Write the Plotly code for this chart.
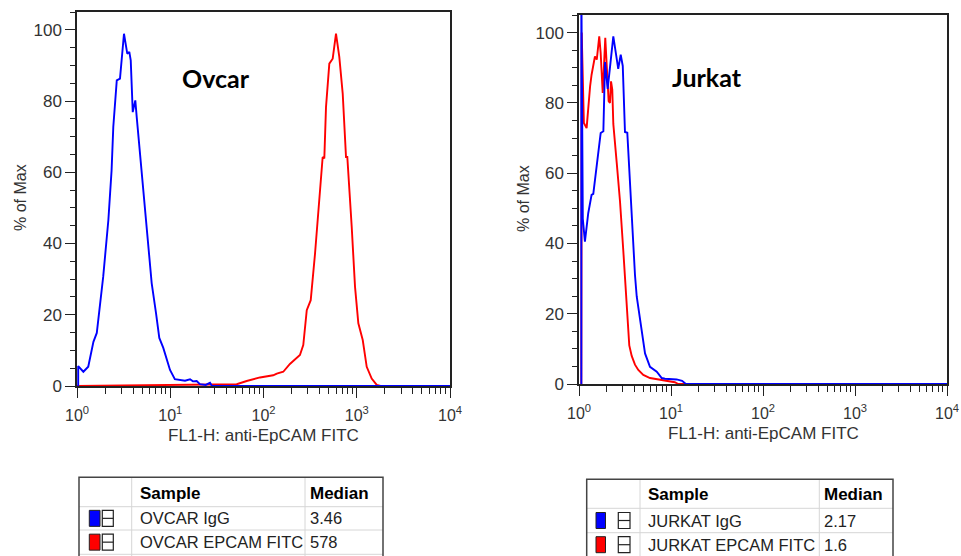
import plotly.graph_objects as go

W, H = 961, 556

# --- histogram data (% of max vs FL1-H intensity) ---
ovcar_igg_x = [1.03, 1.03, 1.17, 1.32, 1.50, 1.63, 1.91, 2.17, 2.35, 2.45, 2.67, 2.89, 3.19, 3.46,
               3.64, 3.77, 3.96, 4.22, 4.37, 4.94, 5.59, 6.32, 7.03, 7.63, 8.42, 9.94, 11.2, 14.4,
               16.3, 17.5, 19.2, 20.8, 24.0, 26.7, 28.0, 30.2, 10000]
ovcar_igg_y = [0, 5.6, 4.0, 5.4, 12.4, 14.9, 30.7, 46.6, 60.6, 72.7, 85.8, 86.3, 98.9, 93.3,
               93.8, 91.4, 76.9, 80.2, 75.5, 59.7, 42.9, 28.9, 20.5, 13.5, 10.7, 4.5, 1.9, 1.5,
               1.9, 1.3, 1.4, 0.5, 0.3, 0.9, 0, 0, 0]

ovcar_epcam_x = [1.0, 51.6, 66.1, 84.6, 91.7, 127, 139, 163, 192, 246, 267, 291, 321, 357, 397,
                 431, 449, 468, 508, 552, 599, 650, 707, 767, 792, 811, 883, 958, 1040, 1159,
                 1279, 1446, 1637, 1800, 10000]
ovcar_epcam_y = [0, 0.5, 1.4, 2.1, 2.4, 3.0, 3.5, 4.0, 6.2, 8.7, 11.5, 21.3, 24.1, 37.2, 54.0,
                 64.3, 63.9, 78.3, 90.5, 91.9, 98.9, 92.4, 82.1, 64.3, 64.3, 60.6, 44.7, 27.9,
                 17.6, 12.9, 5.4, 2.1, 0.3, 0, 0]

jurkat_igg_x = [1.06, 1.06, 1.10, 1.16, 1.26, 1.37, 1.43, 1.56, 1.72, 1.84, 1.92, 2.05, 2.36,
                2.67, 2.84, 2.99, 3.16, 3.35, 3.58, 3.74, 3.89, 4.06, 4.24, 4.60, 5.0, 5.22,
                5.91, 7.0, 7.93, 8.6, 11.5, 13.2, 14.5, 10000]
jurkat_igg_y = [0, 115, 47, 40.5, 48.6, 53.8, 54.1, 61.9, 71.4, 71.9, 91.6, 84, 98.9,
                89.7, 93.7, 90.5, 71.7, 71.5, 56.2, 47.7, 39.1, 31, 24.9, 18, 12, 8.7,
                4.9, 3.5, 1.7, 1.5, 1.3, 0.9, 0, 0]

jurkat_epcam_x = [1.06, 1.07, 1.13, 1.21, 1.32, 1.37, 1.49, 1.56, 1.66, 1.72, 1.81, 1.93, 2.03,
                  2.10, 2.17, 2.23, 2.30, 2.36, 2.57, 2.79, 3.03, 3.16, 3.30, 3.52, 3.74, 4.06,
                  4.41, 5.0, 5.91, 7.2, 9.75, 11, 12, 10000]
jurkat_epcam_y = [0, 100, 74.3, 72.8, 84.7, 88.0, 93.2, 92.3, 98.9, 94.2, 82.8, 98.5, 87.6,
                  80.5, 80.0, 86.1, 83.8, 74, 63, 52, 38, 30, 20, 11, 8, 5.5,
                  4, 2.6, 1.7, 1.3, 0.9, 0.5, 0, 0]

panel_titles = ["Ovcar", "Jurkat"]
sample_names = [["OVCAR IgG", "OVCAR EPCAM FITC"], ["JURKAT IgG", "JURKAT EPCAM FITC"]]
medians = [["3.46", "578"], ["2.17", "1.6"]]
sample_colors = ["#0000ff", "#ff0000"]
x_tick_vals = [1, 10, 100, 1000, 10000]
x_tick_text = ["10<sup>%d</sup>" % i for i in range(5)]
x_title = "FL1-H: anti-EpCAM FITC"
y_title = "% of Max"

FONT = "Liberation Sans, Arial, sans-serif"
AX = "#222"


def px(x):
    # page pixel -> paper fraction
    return x / W


def py(y):
    return 1 - y / H


fig = go.Figure()

# histograms: red drawn first so the blue baseline sits on top
for xs, ys, col, ax in [
    (ovcar_epcam_x, ovcar_epcam_y, sample_colors[1], ""),
    (ovcar_igg_x, ovcar_igg_y, sample_colors[0], ""),
    (jurkat_epcam_x, jurkat_epcam_y, sample_colors[1], "2"),
    (jurkat_igg_x, jurkat_igg_y, sample_colors[0], "2"),
]:
    fig.add_trace(go.Scatter(x=xs, y=ys, mode="lines", line=dict(color=col, width=1.9),
                             xaxis="x" + ax, yaxis="y" + ax, showlegend=False,
                             hoverinfo="skip"))

minor_x = [m * 10 ** d for d in range(4) for m in range(2, 10)]


def xaxis(dom, anchor):
    return dict(type="log", range=[0, 4], domain=dom, anchor=anchor, automargin=False,
                tickvals=x_tick_vals, ticktext=x_tick_text,
                ticks="outside", ticklen=10, tickwidth=1.3, tickcolor=AX,
                ticklabelstandoff=4, ticklabeloverflow="allow",
                minor=dict(tickvals=minor_x, ticks="outside", ticklen=6,
                           tickwidth=1.2, tickcolor=AX),
                showline=True, linecolor=AX, linewidth=1.5, mirror=True,
                showgrid=False, zeroline=False,
                tickfont=dict(family=FONT, size=16, color="#333"))


def yaxis(dom, anchor):
    return dict(range=[0, 105], domain=dom, anchor=anchor, automargin=False,
                tickvals=[0, 20, 40, 60, 80, 100],
                ticks="outside", ticklen=10, tickwidth=1.3, tickcolor=AX,
                minor=dict(dtick=5, ticks="outside", ticklen=5, tickwidth=1.2,
                           tickcolor=AX),
                showline=True, linecolor=AX, linewidth=1.5, mirror=True,
                showgrid=False, zeroline=False,
                tickfont=dict(family=FONT, size=17, color="#333"))


fig.update_layout(
    xaxis=xaxis([px(77), px(450)], "y"),
    yaxis=yaxis([py(386), py(12)], "x"),
    xaxis2=xaxis([px(579), px(947)], "y2"),
    yaxis2=yaxis([py(384), py(15)], "x2"),
)

ann = []
shapes = []


def label(x, y, text, size, color="#333", family=FONT, xanchor="center", angle=0):
    ann.append(dict(x=px(x), y=py(y), text=text, showarrow=False, textangle=angle,
                    xref="paper", yref="paper", xanchor=xanchor, yanchor="middle",
                    font=dict(family=family, size=size, color=color)))


# panel labels and axis titles
label(216, 78, "<b>%s</b>" % panel_titles[0], 25, "black", "Lato")
label(707, 77, "<b>%s</b>" % panel_titles[1], 25, "black", "Lato")
label(263.5, 435, x_title, 17)
label(763, 433, x_title, 17)
label(20, 198, y_title, 16, angle=-90)
label(523, 199, y_title, 16, angle=-90)


# sample tables under each histogram
def table(left, c1, c2, right, rows, icon1, icon2, names, meds):
    top, hb, r1, r2 = rows
    grid = "#d6d6d6"
    for yy in [hb, r1, r2]:
        shapes.append(dict(type="line", xref="paper", yref="paper", x0=px(left), x1=px(right),
                           y0=py(yy), y1=py(yy), line=dict(color=grid, width=1)))
    for xx in [c1, c2]:
        shapes.append(dict(type="line", xref="paper", yref="paper", x0=px(xx), x1=px(xx),
                           y0=py(top), y1=py(570), line=dict(color=grid, width=1)))
    shapes.append(dict(type="rect", xref="paper", yref="paper", x0=px(left), x1=px(right),
                       y0=py(570), y1=py(top), line=dict(color="#444", width=1.5)))
    label(c1 + 6, (top + hb) / 2 + 1, "<b>Sample</b>", 17, "black", xanchor="left")
    label(c2 + 3, (top + hb) / 2 + 1, "<b>Median</b>", 17, "black", xanchor="left")
    for i, (y0, y1) in enumerate([(hb, r1), (r1, r2)]):
        cy = (y0 + y1) / 2
        shapes.append(dict(type="rect", xref="paper", yref="paper",
                           x0=px(icon1[0]), x1=px(icon1[1]), y0=py(cy + 8), y1=py(cy - 8),
                           fillcolor=sample_colors[i], line=dict(color="#222", width=1)))
        shapes.append(dict(type="rect", xref="paper", yref="paper",
                           x0=px(icon2[0]), x1=px(icon2[1]), y0=py(cy + 8), y1=py(cy - 8),
                           line=dict(color="#222", width=1.2)))
        shapes.append(dict(type="line", xref="paper", yref="paper",
                           x0=px(icon2[0]), x1=px(icon2[1]), y0=py(cy), y1=py(cy),
                           line=dict(color="#222", width=1.2)))
        label(c1 + 6, cy, names[i], 16.5, "#222", xanchor="left")
        label(c2 + 3, cy, meds[i], 16.5, "#222", xanchor="left")


table(79, 131.7, 305, 383, (477.3, 506.7, 530, 554.3), (89.3, 100), (102.3, 113.3),
      sample_names[0], medians[0])
table(586.7, 640, 819.3, 893, (479.3, 508.3, 532.7, 556.7), (596, 605.5), (618.3, 630),
      sample_names[1], medians[1])

fig.update_layout(
    width=W, height=H, autosize=False,
    margin=dict(l=0, r=0, t=0, b=0, autoexpand=False),
    paper_bgcolor="white", plot_bgcolor="white",
    annotations=ann, shapes=shapes,
)

# drop the default 8px body margin so the figure fills the page exactly
fig.write_html("out.html", config={"displayModeBar": False},
               post_script="document.body.style.margin='0';")
